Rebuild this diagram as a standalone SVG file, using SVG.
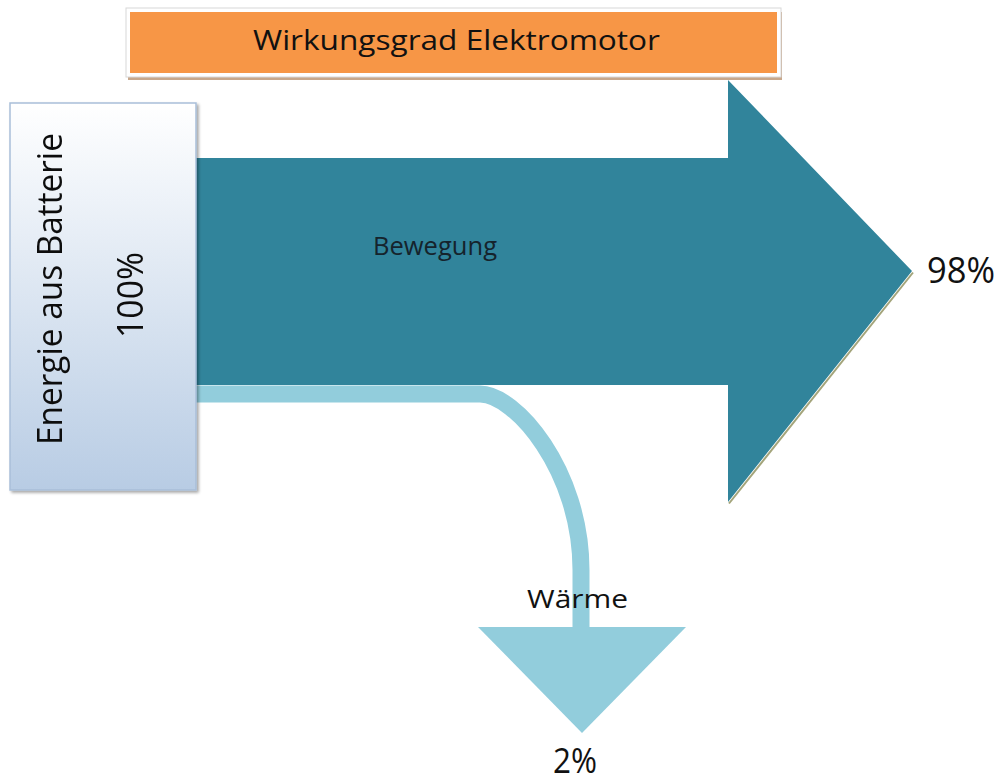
<svg xmlns="http://www.w3.org/2000/svg" width="1002" height="783" viewBox="0 0 1002 783">
  <defs>
    <linearGradient id="sourceFill" x1="0" y1="0" x2="0" y2="1">
      <stop offset="0" stop-color="#ffffff"/>
      <stop offset="1" stop-color="#b8cce4"/>
    </linearGradient>
    <filter id="softShadow" x="-10%" y="-10%" width="130%" height="130%">
      <feGaussianBlur in="SourceAlpha" stdDeviation="1.5"/>
      <feOffset dx="2" dy="2" result="o"/>
      <feComponentTransfer><feFuncA type="linear" slope="0.35"/></feComponentTransfer>
      <feMerge><feMergeNode/><feMergeNode in="SourceGraphic"/></feMerge>
    </filter>
  </defs>
  <style>
    .lbl { font-family: "Open Sans", "Liberation Sans", sans-serif; fill: #111111; }
    .main { fill: #31849b; }
    .loss { fill: #92cddc; }
    .lossband { fill: none; stroke: #92cddc; stroke-width: 17; }
  </style>

  <rect width="1002" height="783" fill="#ffffff"/>

  <!-- flows -->
  <g id="connectors">
    <!-- useful output: motion, 98 % -->
    <g id="flow-bewegung">
      <polyline points="728,502 912,271" fill="none" stroke="#a3a47a" stroke-width="2" transform="translate(1,1.5)"/>
      <polygon class="main" points="196,158 728,158 728,80 912,271 728,502 728,385 196,385"/>
      <text class="lbl" x="435" y="255" font-size="25" textLength="124" lengthAdjust="spacingAndGlyphs" text-anchor="middle" style="fill:#15232c">Bewegung</text>
    </g>
    <!-- loss: heat, 2 % -->
    <g id="flow-waerme">
      <path class="lossband" d="M196,394 H480 C515,394 581,470 581,570 V630"/>
      <polygon class="loss" points="478,627 686,627 582,733"/>
    </g>
  </g>

  <!-- title banner -->
  <g id="title">
    <rect x="127" y="9" width="654" height="68" fill="#c8a88c" transform="translate(1,3)"/>
    <rect x="126" y="8" width="655" height="69" fill="#ffffff" stroke="#d8d8d8" stroke-width="1"/>
    <rect x="130" y="12" width="647" height="61" fill="#f79646"/>
    <text class="lbl" x="253" y="50" font-size="28" textLength="407" lengthAdjust="spacingAndGlyphs">Wirkungsgrad Elektromotor</text>
  </g>

  <!-- source: battery energy -->
  <g id="source" filter="url(#softShadow)">
    <rect x="10" y="103" width="186" height="387" fill="url(#sourceFill)" stroke="#a9bed9" stroke-width="1.5"/>
    <text class="lbl" transform="translate(62,445) rotate(-90)" font-size="35" textLength="312" lengthAdjust="spacingAndGlyphs">Energie aus Batterie</text>
    <text class="lbl" transform="translate(143,338) rotate(-90)" font-size="36" textLength="86" lengthAdjust="spacingAndGlyphs">100%</text>
  </g>

  <!-- output labels -->
  <g id="label-98">
    <text class="lbl" x="927" y="283" font-size="36" textLength="68" lengthAdjust="spacingAndGlyphs">98%</text>
  </g>
  <g id="label-waerme">
    <text class="lbl" x="527" y="608" font-size="25" textLength="101" lengthAdjust="spacingAndGlyphs">Wärme</text>
  </g>
  <g id="label-2">
    <text class="lbl" x="553" y="773" font-size="34" textLength="44" lengthAdjust="spacingAndGlyphs">2%</text>
  </g>
</svg>
